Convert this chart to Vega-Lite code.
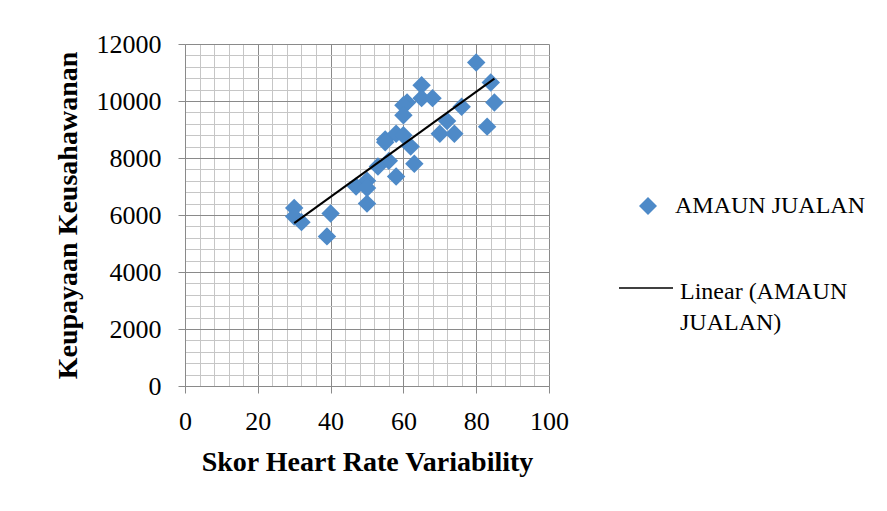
{
  "$schema": "https://vega.github.io/schema/vega-lite/v6.json",
  "autosize": "none",
  "width": 364,
  "height": 342,
  "padding": {"left": 185, "top": 44, "right": 338, "bottom": 125},
  "background": "white",
  "config": {"view": {"stroke": null}, "font": "Liberation Serif"},
  "data": {
    "values": [
      {"hrv": 80, "sales": 11350, "series": "AMAUN JUALAN"},
      {"hrv": 84, "sales": 10650, "series": "AMAUN JUALAN"},
      {"hrv": 85, "sales": 9950, "series": "AMAUN JUALAN"},
      {"hrv": 83, "sales": 9100, "series": "AMAUN JUALAN"},
      {"hrv": 76, "sales": 9800, "series": "AMAUN JUALAN"},
      {"hrv": 72, "sales": 9300, "series": "AMAUN JUALAN"},
      {"hrv": 70, "sales": 8850, "series": "AMAUN JUALAN"},
      {"hrv": 74, "sales": 8850, "series": "AMAUN JUALAN"},
      {"hrv": 65, "sales": 10550, "series": "AMAUN JUALAN"},
      {"hrv": 68, "sales": 10100, "series": "AMAUN JUALAN"},
      {"hrv": 65, "sales": 10100, "series": "AMAUN JUALAN"},
      {"hrv": 61, "sales": 9950, "series": "AMAUN JUALAN"},
      {"hrv": 60, "sales": 9850, "series": "AMAUN JUALAN"},
      {"hrv": 60, "sales": 9500, "series": "AMAUN JUALAN"},
      {"hrv": 55, "sales": 8650, "series": "AMAUN JUALAN"},
      {"hrv": 58, "sales": 8850, "series": "AMAUN JUALAN"},
      {"hrv": 60, "sales": 8800, "series": "AMAUN JUALAN"},
      {"hrv": 55, "sales": 8550, "series": "AMAUN JUALAN"},
      {"hrv": 62, "sales": 8400, "series": "AMAUN JUALAN"},
      {"hrv": 63, "sales": 7800, "series": "AMAUN JUALAN"},
      {"hrv": 56, "sales": 7900, "series": "AMAUN JUALAN"},
      {"hrv": 53, "sales": 7700, "series": "AMAUN JUALAN"},
      {"hrv": 58, "sales": 7350, "series": "AMAUN JUALAN"},
      {"hrv": 50, "sales": 7200, "series": "AMAUN JUALAN"},
      {"hrv": 47, "sales": 7000, "series": "AMAUN JUALAN"},
      {"hrv": 50, "sales": 6950, "series": "AMAUN JUALAN"},
      {"hrv": 50, "sales": 6400, "series": "AMAUN JUALAN"},
      {"hrv": 40, "sales": 6050, "series": "AMAUN JUALAN"},
      {"hrv": 39, "sales": 5250, "series": "AMAUN JUALAN"},
      {"hrv": 30, "sales": 6250, "series": "AMAUN JUALAN"},
      {"hrv": 30, "sales": 5950, "series": "AMAUN JUALAN"},
      {"hrv": 32, "sales": 5750, "series": "AMAUN JUALAN"}
    ]
  },
  "layer": [
    {
      "mark": {"type": "point", "shape": "diamond", "filled": true, "size": 340, "opacity": 1},
      "encoding": {
        "x": {
          "field": "hrv", "type": "quantitative",
          "scale": {"domain": [0, 100], "nice": false, "zero": false},
          "axis": {
            "values": [0,4,8,12,16,20,24,28,32,36,40,44,48,52,56,60,64,68,72,76,80,84,88,92,96,100],
            "tickCount": 200,
            "format": "d",
            "grid": true,
            "gridColor": {"condition": {"test": "datum.value % 20 === 0", "value": "#8a8a8a"}, "value": "#c6c6c6"},
            "gridWidth": 1,
            "domainColor": "#8a8a8a",
            "tickColor": {"condition": {"test": "datum.value % 20 === 0", "value": "#8a8a8a"}, "value": "transparent"},
            "tickSize": 7,
            "labelExpr": "datum.value % 20 === 0 ? datum.label : ''",
            "labelOverlap": false,
            "labelBound": false,
            "labelFlush": false,
            "labelFont": "Liberation Serif",
            "labelFontSize": 26,
            "labelColor": "black",
            "labelPadding": 15,
            "title": "Skor Heart Rate Variability",
            "titleFont": "Liberation Serif",
            "titleFontSize": 28,
            "titleFontWeight": "bold",
            "titleColor": "black",
            "titleY": 84,
            "titleBaseline": "alphabetic"
          }
        },
        "y": {
          "field": "sales", "type": "quantitative",
          "scale": {"domain": [0, 12000], "nice": false},
          "axis": {
            "values": [0,400,800,1200,1600,2000,2400,2800,3200,3600,4000,4400,4800,5200,5600,6000,6400,6800,7200,7600,8000,8400,8800,9200,9600,10000,10400,10800,11200,11600,12000],
            "tickCount": 200,
            "format": "d",
            "grid": true,
            "gridColor": {"condition": {"test": "datum.value % 2000 === 0", "value": "#8a8a8a"}, "value": "#c6c6c6"},
            "gridWidth": 1,
            "domainColor": "#8a8a8a",
            "tickColor": {"condition": {"test": "datum.value % 2000 === 0", "value": "#8a8a8a"}, "value": "transparent"},
            "tickSize": 7,
            "labelExpr": "datum.value % 2000 === 0 ? datum.label : ''",
            "labelOverlap": false,
            "labelBound": false,
            "labelFlush": false,
            "labelFont": "Liberation Serif",
            "labelFontSize": 26,
            "labelColor": "black",
            "labelPadding": 17,
            "title": "Keupayaan Keusahawanan",
            "titleFont": "Liberation Serif",
            "titleFontSize": 28,
            "titleFontWeight": "bold",
            "titleColor": "black",
            "titleX": -109,
            "titleBaseline": "alphabetic"
          }
        },
        "color": {
          "field": "series", "type": "nominal",
          "scale": {"range": ["#4e8ac8"]},
          "legend": {
            "title": null,
            "orient": "none",
            "legendX": 451,
            "legendY": 150,
            "padding": 0,
            "symbolType": "diamond",
            "symbolSize": 324,
            "symbolStrokeWidth": 0,
            "labelFont": "Liberation Serif",
            "labelFontSize": 24,
            "labelColor": "black",
            "labelOffset": 15,
            "labelLimit": 400
          }
        }
      }
    },
    {
      "transform": [{"regression": "sales", "on": "hrv"}],
      "mark": {"type": "line", "color": "black", "strokeWidth": 2},
      "encoding": {
        "x": {"field": "hrv", "type": "quantitative"},
        "y": {"field": "sales", "type": "quantitative"},
        "stroke": {
          "datum": "Linear (AMAUN JUALAN)", "type": "nominal",
          "scale": {"range": ["#000000"]},
          "legend": {
            "title": null,
            "orient": "none",
            "legendX": 433,
            "legendY": 208,
            "padding": 0,
            "symbolType": "M-1,0.296L1,0.296",
            "symbolSize": 2916,
            "symbolStrokeWidth": 1.5,
            "labelFont": "Liberation Serif",
            "labelFontSize": 24,
            "labelColor": "black",
            "labelOffset": 6,
            "labelBaseline": "top",
            "labelLimit": 400,
            "labelExpr": "['Linear (AMAUN', 'JUALAN)']",
            "encode": {"labels": {"update": {"lineHeight": {"value": 31}}}}
          }
        }
      }
    }
  ]
}
